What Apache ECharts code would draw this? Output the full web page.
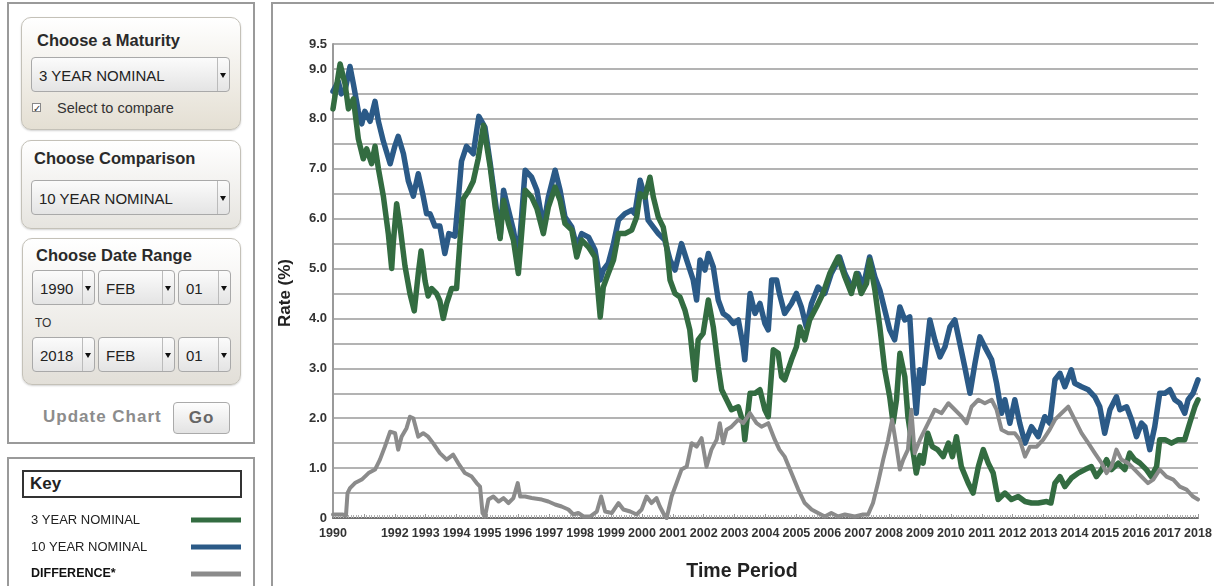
<!DOCTYPE html>
<html>
<head>
<meta charset="utf-8">
<script src="https://cdn.jsdelivr.net/npm/echarts@6/dist/echarts.min.js"></script>
<style>
  html, body { margin: 0; padding: 0; background: #fff; }
  body { width: 1214px; height: 586px; position: relative; overflow: hidden; font-family: "Liberation Sans", Arial, sans-serif; color: #222; }
  .abs { position: absolute; box-sizing: border-box; }
  .outer { border: 2px solid #9a9a9a; background: #fff; }
  .panel { border: 1px solid #c4c1b8; border-radius: 10px; box-shadow: 0 1px 2px rgba(0,0,0,0.18); }
  .title { font-weight: bold; font-size: 16.5px; color: #2a2a2a; white-space: nowrap; }
  .sel { border: 1px solid #a9a9a9; border-radius: 4px; background: linear-gradient(#fbfbfb, #e4e4e4); font-size: 15px; color: #222; white-space: nowrap; }
  .sel span.t { position: absolute; left: 7px; top: 50%; transform: translateY(-50%); }
  .sel span.a { position: absolute; right: 0; top: 0; bottom: 0; width: 11px; border-left: 1px solid #bbb; }
  .sel span.a:after { content: ""; position: absolute; left: 2px; top: 50%; margin-top: -2px; border-left: 3px solid transparent; border-right: 3px solid transparent; border-top: 5px solid #111; }
  #chart { position: absolute; left: 0; top: 0; width: 1214px; height: 586px; z-index: 5; }
</style>
</head>
<body>
<!-- control panel -->
<div class="abs outer" style="left:7px;top:2px;width:248px;height:442px;"></div>
<div class="abs panel" style="left:21px;top:17px;width:220px;height:113px;background:linear-gradient(#ffffff,#e4dfd3);"></div>
<div class="abs title" style="left:37px;top:31px;">Choose a Maturity</div>
<div class="abs sel" style="left:31px;top:57px;width:199px;height:35px;"><span class="t">3 YEAR NOMINAL</span><span class="a"></span></div>
<div class="abs" style="left:32px;top:103px;width:9px;height:9px;border:1px solid #888;background:#fff;font-size:10px;line-height:9px;text-align:center;color:#333;">&#10003;</div>
<div class="abs" style="left:57px;top:100px;font-size:14.5px;color:#333;white-space:nowrap;">Select to compare</div>

<div class="abs panel" style="left:21px;top:140px;width:220px;height:89px;background:linear-gradient(#ffffff,#e6e4df);"></div>
<div class="abs title" style="left:34px;top:149px;">Choose Comparison</div>
<div class="abs sel" style="left:31px;top:180px;width:199px;height:35px;"><span class="t">10 YEAR NOMINAL</span><span class="a"></span></div>

<div class="abs panel" style="left:22px;top:238px;width:219px;height:147px;background:linear-gradient(#ffffff,#e2dfd8);"></div>
<div class="abs title" style="left:36px;top:246px;">Choose Date Range</div>
<div class="abs sel" style="left:32px;top:270px;width:63px;height:35px;"><span class="t">1990</span><span class="a"></span></div>
<div class="abs sel" style="left:98px;top:270px;width:77px;height:35px;"><span class="t">FEB</span><span class="a"></span></div>
<div class="abs sel" style="left:178px;top:270px;width:53px;height:35px;"><span class="t">01</span><span class="a"></span></div>
<div class="abs" style="left:35px;top:316px;font-size:12px;color:#333;">TO</div>
<div class="abs sel" style="left:32px;top:337px;width:63px;height:35px;"><span class="t">2018</span><span class="a"></span></div>
<div class="abs sel" style="left:98px;top:337px;width:77px;height:35px;"><span class="t">FEB</span><span class="a"></span></div>
<div class="abs sel" style="left:178px;top:337px;width:53px;height:35px;"><span class="t">01</span><span class="a"></span></div>

<div class="abs" style="left:43px;top:407px;font-size:17px;font-weight:bold;color:#8c8c8c;letter-spacing:1px;white-space:nowrap;">Update Chart</div>
<div class="abs" style="left:173px;top:402px;width:57px;height:32px;border:1px solid #aaa;border-radius:4px;background:linear-gradient(#fdfdfd,#e3e3e3);font-size:17px;font-weight:bold;color:#666;letter-spacing:1px;text-align:center;line-height:30px;">Go</div>

<!-- key box -->
<div class="abs outer" style="left:7px;top:457px;width:248px;height:140px;"></div>
<div class="abs" style="left:22px;top:470px;width:220px;height:28px;border:2px solid #333;background:#fff;"></div>
<div class="abs" style="left:30px;top:474px;font-size:17px;font-weight:bold;color:#222;">Key</div>

<!-- chart frame -->
<div class="abs outer" style="left:271px;top:2px;width:960px;height:600px;"></div>

<div id="chart"></div>
<script>
// ---- data (decimal year, rate %) ----
const threeYear = [
[1990.00,8.2],[1990.10,8.6],[1990.23,9.1],[1990.39,8.7],[1990.50,8.2],[1990.66,8.4],[1990.82,7.6],[1990.98,7.2],[1991.09,7.4],[1991.25,7.1],[1991.36,7.45],[1991.47,7.0],[1991.63,6.45],[1991.79,5.7],[1991.90,5.0],[1991.95,5.5],[1992.06,6.3],[1992.17,5.85],[1992.33,5.05],[1992.49,4.5],[1992.63,4.15],[1992.76,4.9],[1992.85,5.35],[1992.98,4.75],[1993.08,4.45],[1993.19,4.6],[1993.35,4.5],[1993.46,4.35],[1993.57,4.0],[1993.68,4.3],[1993.84,4.6],[1994.00,4.6],[1994.11,5.55],[1994.22,6.4],[1994.38,6.55],[1994.54,6.75],[1994.70,7.2],[1994.87,7.87],[1995.09,7.03],[1995.25,6.23],[1995.41,5.6],[1995.52,6.37],[1995.68,5.9],[1995.84,5.57],[1996.00,4.9],[1996.22,6.57],[1996.43,6.43],[1996.60,6.2],[1996.81,5.7],[1996.97,6.23],[1997.19,6.63],[1997.35,6.37],[1997.51,5.9],[1997.73,5.77],[1997.89,5.23],[1998.05,5.57],[1998.27,5.43],[1998.48,5.23],[1998.65,4.03],[1998.75,4.63],[1998.91,4.9],[1999.08,5.17],[1999.24,5.7],[1999.45,5.7],[1999.67,5.77],[1999.83,6.03],[1999.94,6.5],[2000.10,6.43],[2000.26,6.83],[2000.37,6.43],[2000.53,6.03],[2000.69,5.83],[2000.80,5.43],[2000.91,4.77],[2001.07,4.5],[2001.23,4.43],[2001.39,4.17],[2001.55,3.77],[2001.72,2.77],[2001.82,3.57],[2001.98,3.7],[2002.15,4.37],[2002.31,3.83],[2002.47,3.03],[2002.58,2.57],[2002.74,2.37],[2002.90,2.17],[2003.12,2.23],[2003.28,1.9],[2003.33,1.57],[2003.50,2.5],[2003.66,2.5],[2003.82,2.57],[2003.98,2.17],[2004.09,2.03],[2004.25,3.37],[2004.41,3.3],[2004.52,2.83],[2004.62,2.77],[2004.84,3.17],[2005.00,3.43],[2005.11,3.83],[2005.27,3.57],[2005.43,3.97],[2005.65,4.23],[2005.86,4.5],[2006.08,4.9],[2006.35,5.23],[2006.57,4.83],[2006.78,4.5],[2006.94,4.9],[2007.10,4.5],[2007.27,4.7],[2007.37,5.17],[2007.54,4.57],[2007.70,3.83],[2007.86,2.97],[2008.02,2.43],[2008.13,1.9],[2008.24,2.37],[2008.35,3.3],[2008.51,2.83],[2008.61,2.03],[2008.72,1.57],[2008.88,0.9],[2009.00,1.25],[2009.10,1.1],[2009.25,1.7],[2009.40,1.43],[2009.57,1.37],[2009.75,1.23],[2009.92,1.5],[2010.05,1.23],[2010.18,1.63],[2010.34,1.03],[2010.56,0.7],[2010.72,0.5],[2010.89,1.03],[2011.05,1.37],[2011.21,1.1],[2011.37,0.9],[2011.53,0.37],[2011.75,0.5],[2011.96,0.37],[2012.18,0.43],[2012.40,0.33],[2012.61,0.3],[2012.83,0.3],[2013.10,0.33],[2013.24,0.3],[2013.37,0.7],[2013.53,0.83],[2013.69,0.63],[2013.90,0.8],[2014.12,0.9],[2014.34,0.97],[2014.55,1.03],[2014.71,0.83],[2014.88,0.97],[2015.04,1.17],[2015.20,0.97],[2015.42,1.1],[2015.63,0.97],[2015.79,1.3],[2015.95,1.17],[2016.12,1.1],[2016.33,0.97],[2016.49,0.83],[2016.66,1.03],[2016.76,1.57],[2016.93,1.57],[2017.14,1.5],[2017.36,1.57],[2017.57,1.57],[2017.73,1.9],[2017.90,2.23],[2018.00,2.37]
];
const tenYear = [
[1990.00,8.55],[1990.17,8.75],[1990.27,8.5],[1990.40,8.6],[1990.55,9.05],[1990.66,8.7],[1990.82,8.15],[1990.93,7.9],[1991.03,8.15],[1991.20,7.95],[1991.36,8.35],[1991.47,7.95],[1991.63,7.55],[1991.85,7.1],[1992.00,7.45],[1992.11,7.65],[1992.28,7.3],[1992.44,6.75],[1992.60,6.45],[1992.76,6.9],[1992.92,6.45],[1993.03,6.1],[1993.14,6.1],[1993.30,5.85],[1993.46,5.85],[1993.62,5.3],[1993.75,5.7],[1993.95,5.65],[1994.05,6.35],[1994.16,7.15],[1994.32,7.45],[1994.54,7.3],[1994.72,8.05],[1994.92,7.83],[1995.09,7.1],[1995.25,6.37],[1995.41,5.63],[1995.52,6.57],[1995.68,6.17],[1995.84,5.77],[1996.00,5.2],[1996.22,6.97],[1996.43,6.83],[1996.60,6.57],[1996.81,5.83],[1996.97,6.43],[1997.19,6.97],[1997.35,6.57],[1997.51,6.03],[1997.73,5.83],[1997.89,5.43],[1998.05,5.7],[1998.27,5.63],[1998.48,5.37],[1998.65,4.77],[1998.75,4.97],[1998.91,5.1],[1999.08,5.5],[1999.24,5.97],[1999.45,6.1],[1999.67,6.17],[1999.77,6.1],[1999.94,6.77],[2000.10,6.43],[2000.20,5.97],[2000.37,5.83],[2000.53,5.7],[2000.74,5.57],[2000.91,5.17],[2001.07,4.97],[2001.28,5.5],[2001.45,5.17],[2001.66,4.77],[2001.77,4.37],[2001.88,5.17],[2002.04,4.97],[2002.15,5.3],[2002.31,5.03],[2002.47,4.37],[2002.63,4.1],[2002.79,4.03],[2002.96,3.9],[2003.12,3.97],[2003.28,3.43],[2003.33,3.17],[2003.50,4.5],[2003.66,4.1],[2003.82,4.3],[2003.98,3.9],[2004.09,3.77],[2004.20,4.77],[2004.36,4.77],[2004.45,4.5],[2004.62,4.1],[2004.84,4.3],[2005.00,4.5],[2005.16,4.23],[2005.32,3.83],[2005.49,4.3],[2005.70,4.63],[2005.92,4.5],[2006.13,4.9],[2006.30,5.1],[2006.40,5.23],[2006.57,4.9],[2006.73,4.7],[2006.84,4.63],[2007.00,4.9],[2007.16,4.63],[2007.37,5.23],[2007.54,4.83],[2007.70,4.57],[2007.86,4.17],[2008.02,3.77],[2008.18,3.57],[2008.35,4.23],[2008.51,3.97],[2008.67,4.03],[2008.78,2.9],[2008.88,2.1],[2008.99,2.97],[2009.10,2.7],[2009.32,3.97],[2009.48,3.57],[2009.65,3.23],[2009.81,3.43],[2009.97,3.83],[2010.13,3.97],[2010.29,3.5],[2010.45,3.03],[2010.62,2.5],[2010.78,3.1],[2010.94,3.63],[2011.10,3.43],[2011.32,3.17],[2011.48,2.7],[2011.64,2.1],[2011.75,2.37],[2011.91,1.9],[2012.07,2.37],[2012.23,1.9],[2012.40,1.5],[2012.61,1.83],[2012.83,1.63],[2013.04,2.03],[2013.20,1.9],[2013.37,2.77],[2013.53,2.9],[2013.69,2.63],[2013.90,2.97],[2014.01,2.7],[2014.23,2.63],[2014.45,2.57],[2014.66,2.43],[2014.82,2.23],[2014.98,1.7],[2015.15,2.17],[2015.36,2.43],[2015.47,2.17],[2015.69,2.23],[2015.85,1.97],[2016.01,1.63],[2016.17,1.9],[2016.28,1.83],[2016.44,1.37],[2016.60,1.83],[2016.76,2.5],[2016.93,2.5],[2017.09,2.57],[2017.25,2.37],[2017.41,2.3],[2017.57,2.1],[2017.68,2.37],[2017.84,2.5],[2018.00,2.77]
];
const difference = [
[1990.00,0.07],[1990.30,0.07],[1990.42,0.05],[1990.47,0.5],[1990.55,0.6],[1990.71,0.7],[1990.93,0.77],[1991.15,0.9],[1991.36,0.97],[1991.52,1.17],[1991.68,1.43],[1991.85,1.73],[1992.01,1.7],[1992.11,1.37],[1992.22,1.63],[1992.38,1.8],[1992.49,2.03],[1992.60,2.0],[1992.76,1.63],[1992.92,1.7],[1993.08,1.63],[1993.24,1.5],[1993.46,1.3],[1993.68,1.17],[1993.89,1.27],[1994.05,1.1],[1994.27,0.9],[1994.49,0.83],[1994.65,0.7],[1994.76,0.63],[1994.84,0.1],[1994.92,0.03],[1995.03,0.37],[1995.19,0.43],[1995.36,0.33],[1995.52,0.4],[1995.68,0.3],[1995.84,0.4],[1995.98,0.7],[1996.06,0.43],[1996.22,0.43],[1996.43,0.4],[1996.76,0.37],[1996.97,0.33],[1997.19,0.27],[1997.40,0.23],[1997.62,0.17],[1997.78,0.07],[1997.94,0.1],[1998.11,0.03],[1998.32,0.03],[1998.54,0.13],[1998.68,0.43],[1998.81,0.13],[1999.02,0.1],[1999.24,0.3],[1999.40,0.17],[1999.62,0.13],[1999.83,0.07],[1999.99,0.17],[2000.15,0.43],[2000.31,0.3],[2000.47,0.4],[2000.58,0.23],[2000.69,0.1],[2000.80,0.0],[2000.96,0.43],[2001.12,0.7],[2001.28,0.97],[2001.45,1.03],[2001.61,1.5],[2001.77,1.43],[2001.93,1.6],[2002.09,1.03],[2002.25,1.37],[2002.42,1.57],[2002.52,1.9],[2002.63,1.5],[2002.74,1.77],[2002.90,1.83],[2003.12,1.97],[2003.28,1.9],[2003.50,2.1],[2003.71,1.9],[2003.87,1.83],[2004.09,1.9],[2004.30,1.57],[2004.45,1.37],[2004.62,1.23],[2004.84,0.9],[2005.06,0.57],[2005.27,0.3],[2005.49,0.17],[2005.70,0.1],[2005.92,0.03],[2006.13,0.1],[2006.35,0.03],[2006.57,0.07],[2006.89,0.03],[2007.16,0.07],[2007.32,0.07],[2007.48,0.3],[2007.64,0.7],[2007.81,1.17],[2007.97,1.57],[2008.10,1.97],[2008.24,1.43],[2008.35,0.97],[2008.46,1.17],[2008.61,1.37],[2008.72,2.17],[2008.83,1.3],[2009.00,1.57],[2009.16,1.77],[2009.32,1.97],[2009.48,2.17],[2009.70,2.1],[2009.92,2.3],[2010.13,2.17],[2010.35,2.03],[2010.51,1.9],[2010.67,2.23],[2010.89,2.37],[2011.10,2.3],[2011.32,2.37],[2011.48,2.17],[2011.64,1.77],[2011.86,1.7],[2012.07,1.7],[2012.23,1.57],[2012.40,1.23],[2012.56,1.43],[2012.78,1.43],[2012.99,1.57],[2013.20,1.77],[2013.37,1.97],[2013.58,2.1],[2013.80,2.23],[2014.01,1.97],[2014.23,1.7],[2014.45,1.5],[2014.66,1.3],[2014.88,1.1],[2015.04,0.9],[2015.20,1.03],[2015.36,1.37],[2015.52,1.17],[2015.74,1.1],[2015.95,0.97],[2016.17,0.83],[2016.38,0.7],[2016.55,0.77],[2016.76,0.97],[2016.98,0.83],[2017.20,0.77],[2017.41,0.63],[2017.63,0.57],[2017.84,0.43],[2018.00,0.37]
];
const seriesNames = ['3 YEAR NOMINAL', '10 YEAR NOMINAL', 'DIFFERENCE*'];
const seriesColors = ['#336c41', '#2b5a87', '#8b8b8b'];
const hiddenYearLabels = [1991];
const yLabelValues = [0, 1, 2, 3, 4, 5, 6, 7, 8, 9, 9.5];
const yAxisTitle = 'Rate (%)';
const xAxisTitle = 'Time Period';

const chart = echarts.init(document.getElementById('chart'), null, { renderer: 'canvas' });
const FONT = '"Liberation Sans", Arial, sans-serif';

chart.setOption({
  backgroundColor: 'transparent',
  animation: false,
  grid: { left: 333, right: 16, top: 44, bottom: 68, containLabel: false, outerBoundsMode: 'none' },
  legend: {
    orient: 'vertical',
    left: 31, top: 512,
    padding: 0,
    align: 'right',
    itemGap: 11,
    itemWidth: 50, itemHeight: 5,
    icon: 'rect',
    selectedMode: false,
    formatter: name => name === seriesNames[2] ? '{b|' + name + '}' : '{a|' + name + '}',
    textStyle: {
      fontFamily: FONT, fontSize: 13, color: '#222', lineHeight: 16,
      rich: {
        a: { width: 155, align: 'left', fontFamily: FONT, fontSize: 13, color: '#222', lineHeight: 16 },
        b: { width: 155, align: 'left', fontFamily: FONT, fontSize: 12.5, fontWeight: 'bold', color: '#111', lineHeight: 16 }
      }
    },
    data: seriesNames
  },
  xAxis: {
    type: 'value',
    min: 1990, max: 2018, interval: 1,
    axisLine: { show: true, lineStyle: { color: '#707070', width: 2 } },
    axisTick: { show: true, inside: true, length: 4, lineStyle: { color: '#999' } },
    minorTick: { show: true, splitNumber: 12, length: 3, lineStyle: { color: '#b0b0b0' } },
    splitLine: { show: false },
    axisLabel: {
      margin: 9,
      fontFamily: FONT, fontSize: 12.5, fontWeight: 'bold', color: '#333',
      formatter: v => hiddenYearLabels.includes(v) ? '' : String(v)
    }
  },
  yAxis: {
    type: 'value',
    min: 0, max: 9.5, interval: 0.5,
    axisLine: { show: true, lineStyle: { color: '#9a9a9a', width: 2 } },
    axisTick: { show: false },
    splitLine: { show: true, lineStyle: { color: '#b3b3b3', width: 2 } },
    axisLabel: {
      margin: 6,
      fontFamily: FONT, fontSize: 13, fontWeight: 'bold', color: '#333',
      formatter: v => {
        if (!yLabelValues.includes(v)) return '';
        return v === 0 ? '0' : v.toFixed(1);
      }
    }
  },
  graphic: [
    { type: 'text', x: 285, y: 293, rotation: Math.PI / 2,
      style: { text: yAxisTitle, fontFamily: FONT, fontSize: 17, fontWeight: 'bold', fill: '#222', align: 'center', verticalAlign: 'middle' } },
    { type: 'text', x: 742, y: 572,
      style: { text: xAxisTitle, fontFamily: FONT, fontSize: 19.5, fontWeight: 'bold', fill: '#222', align: 'center', verticalAlign: 'middle' } }
  ],
  series: [
    { name: seriesNames[1], type: 'line', data: tenYear, showSymbol: false, color: seriesColors[1],
      lineStyle: { width: 5.5, color: seriesColors[1], join: 'round', cap: 'round' }, itemStyle: { color: seriesColors[1] } },
    { name: seriesNames[0], type: 'line', data: threeYear, showSymbol: false, color: seriesColors[0],
      lineStyle: { width: 5.5, color: seriesColors[0], join: 'round', cap: 'round' }, itemStyle: { color: seriesColors[0] } },
    { name: seriesNames[2], type: 'line', data: difference, showSymbol: false, color: seriesColors[2],
      lineStyle: { width: 4, color: seriesColors[2], join: 'round', cap: 'round' }, itemStyle: { color: seriesColors[2] } }
  ]
});
</script>
</body>
</html>
